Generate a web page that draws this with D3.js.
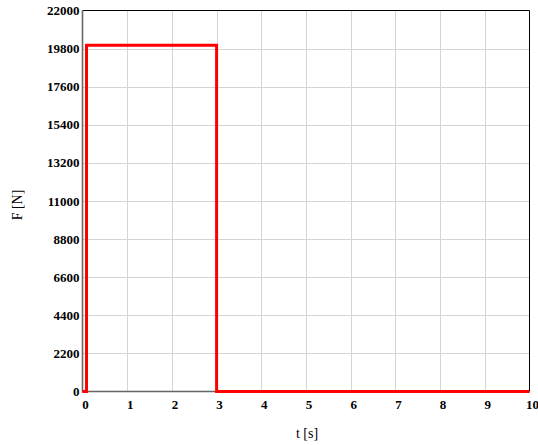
<!DOCTYPE html>
<html>
<head>
<meta charset="utf-8">
<script src="https://cdn.jsdelivr.net/npm/d3@7"></script>
<style>
  html, body { margin: 0; padding: 0; background: #fff; }
  svg { display: block; }
  svg text { font-family: "Liberation Serif", "DejaVu Serif", serif; }
</style>
</head>
<body>
<svg id="chart" width="538" height="445"></svg>
<script>
// Force pulse: step up shortly after t = 0, hold, then drop at t = 3 s
const timeS = [0, 0.09, 0.09, 3, 3, 10];
const forceN = [0, 0, 20000, 20000, 0, 0];
const xTicks = [0, 1, 2, 3, 4, 5, 6, 7, 8, 9, 10];
const yTicks = [0, 2200, 4400, 6600, 8800, 11000, 13200, 15400, 17600, 19800, 22000];
const xLabel = "t [s]";
const yLabel = "F [N]";

(function () {
  const svg = d3.select("#chart");
  const pLeft = 82.5, pRight = 529.5, pTop = 10.5, pBottom = 391.5;

  const x = d3.scaleLinear().domain([0, 10]).range([pLeft, pRight]);
  const y = d3.scaleLinear().domain([0, 22000]).range([pBottom, pTop]);

  // grid
  svg.append("g").selectAll("line").data(xTicks.slice(1, -1)).join("line")
    .attr("x1", d => Math.round(x(d)) + 0.5).attr("x2", d => Math.round(x(d)) + 0.5)
    .attr("y1", pTop).attr("y2", pBottom)
    .attr("stroke", "#d4d4d4").attr("stroke-width", 1);
  svg.append("g").selectAll("line").data(yTicks.slice(1, -1)).join("line")
    .attr("y1", d => Math.round(y(d)) + 0.5).attr("y2", d => Math.round(y(d)) + 0.5)
    .attr("x1", pLeft).attr("x2", pRight)
    .attr("stroke", "#d4d4d4").attr("stroke-width", 1);

  // frame: top/right black, left/bottom gray
  svg.append("line").attr("x1", pLeft).attr("x2", pRight).attr("y1", pTop).attr("y2", pTop)
    .attr("stroke", "#000").attr("stroke-width", 1);
  svg.append("line").attr("x1", pRight).attr("x2", pRight).attr("y1", pTop).attr("y2", pBottom)
    .attr("stroke", "#000").attr("stroke-width", 1);
  svg.append("line").attr("x1", pLeft).attr("x2", pLeft).attr("y1", pTop).attr("y2", pBottom + 1)
    .attr("stroke", "#666").attr("stroke-width", 1.6);
  svg.append("line").attr("x1", pLeft).attr("x2", pRight).attr("y1", pBottom).attr("y2", pBottom)
    .attr("stroke", "#666").attr("stroke-width", 1.6);

  // tick labels
  svg.append("g").selectAll("text").data(yTicks).join("text")
    .attr("x", pLeft - 3).attr("y", d => y(d)).attr("dy", "0.35em")
    .attr("text-anchor", "end")
    .attr("font-weight", "bold").attr("font-size", 13)
    .text(d => d);
  svg.append("g").selectAll("text").data(xTicks).join("text")
    .attr("x", d => x(d) + 3).attr("y", 409)
    .attr("text-anchor", "middle")
    .attr("font-weight", "bold").attr("font-size", 13)
    .text(d => d);

  // axis titles
  svg.append("text").attr("x", 307).attr("y", 438).attr("text-anchor", "middle")
    .attr("font-size", 14).text(xLabel);
  svg.append("text").attr("transform", "translate(22,205) rotate(-90)")
    .attr("text-anchor", "middle")
    .attr("font-size", 14).text(yLabel);

  // force curve
  const line = d3.line().x((d, i) => x(timeS[i])).y(d => y(d));
  svg.append("path").datum(forceN)
    .attr("d", line)
    .attr("fill", "none").attr("stroke", "#ff0000").attr("stroke-width", 3)
    .attr("stroke-linejoin", "miter");
})();
</script>
</body>
</html>
